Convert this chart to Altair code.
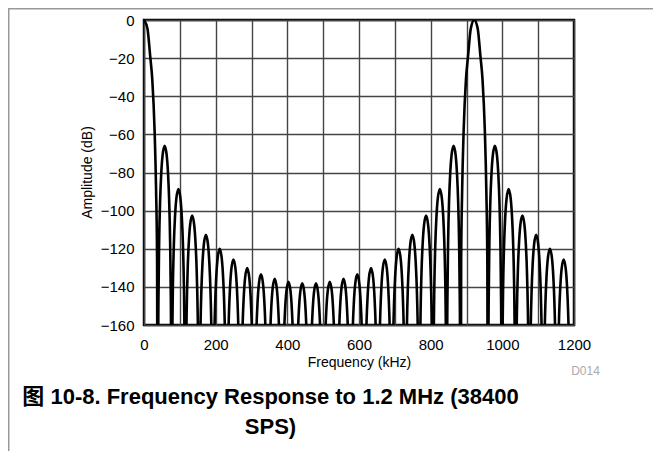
import altair as alt
import pandas as pd

# ---- values ----
# main lobes (kHz), half width to first notch (kHz)
main_lobe_khz = [0.0, 921.6]
main_half_width_khz = 38.4
# side lobes: centre frequency (kHz) and peak level (dB)
side_lobe_khz = [57.6, 96.0, 134.4, 172.8, 211.2, 249.6, 288.0, 326.4, 364.8, 403.2,
                 441.6, 480.0, 518.4, 556.8, 595.2, 633.6, 672.0, 710.4, 748.8, 787.2,
                 825.6, 864.0, 979.2, 1017.6, 1056.0, 1094.4, 1132.8, 1171.2]
side_lobe_db = [-66.0, -88.7, -102.6, -112.7, -120.0, -125.6, -130.1, -133.4, -135.8, -137.4,
                -138.1, -138.1, -137.4, -135.8, -133.4, -130.1, -125.6, -120.0, -112.7, -102.6,
                -88.7, -66.0, -66.0, -88.7, -102.6, -112.7, -120.0, -125.6]
side_half_width_khz = 19.2
# notch frequencies (kHz)
notch_khz = [38.4, 76.8, 115.2, 153.6, 192.0, 230.4, 268.8, 307.2, 345.6, 384.0,
             422.4, 460.8, 499.2, 537.6, 576.0, 614.4, 652.8, 691.2, 729.6, 768.0,
             806.4, 844.8, 883.2, 960.0, 998.4, 1036.8, 1075.2, 1113.6, 1152.0, 1190.4]
notch_db = -300.0  # far below the -160 dB floor (clipped)
# lobe outline: fraction of half width vs. drop from lobe peak (dB)
main_profile_frac = [0.0, 0.25, 0.45, 0.6, 0.77, 0.88, 0.95]
main_profile_drop = [0.0, 4.5, 19.0, 31.0, 58.0, 90.0, 126.0]
side_profile_frac = [0.0, 0.3, 0.5, 0.65, 0.8, 0.9, 0.95]
side_profile_drop = [0.0, 5.0, 15.0, 28.0, 51.0, 81.0, 110.0]

x_ticks = list(range(0, 1201, 100))
y_ticks = list(range(-160, 1, 20))
caption = "图 10-8. Frequency Response to 1.2 MHz (38400\nSPS)"
fig_id = "D014"

# ---- build the table ----
rows = []
for c in main_lobe_khz:
    for f, d in zip(main_profile_frac, main_profile_drop):
        for s in ([1] if f == 0 else [-1, 1]):
            x = c + s * f * main_half_width_khz
            if x >= 0:
                rows.append({"f": x, "a": 0.0 - d})
for c, p in zip(side_lobe_khz, side_lobe_db):
    for f, d in zip(side_profile_frac, side_profile_drop):
        for s in ([1] if f == 0 else [-1, 1]):
            rows.append({"f": c + s * f * side_half_width_khz, "a": p - d})
for n in notch_khz:
    rows.append({"f": n, "a": notch_db})
df = pd.DataFrame(rows).sort_values("f")

FONT = "Liberation Sans, Arial, Noto Sans CJK SC"

curve = alt.Chart(df).mark_line(
    interpolate="monotone", clip=True, color="black", strokeWidth=2.6
).encode(
    x=alt.X("f:Q", scale=alt.Scale(domain=[0, 1200], nice=False),
            axis=alt.Axis(values=x_ticks, title="Frequency (kHz)", format="d",
                          labelExpr="datum.value % 200 == 0 ? datum.label : ''",
                          labelPadding=12, titleX=215, titleY=37, titleBaseline="middle")),
    y=alt.Y("a:Q", scale=alt.Scale(domain=[-160, 0], nice=False),
            axis=alt.Axis(values=y_ticks, title="Amplitude (dB)", labelPadding=10,
                          titleX=-57, titleY=152, titleBaseline="middle", titleAngle=-90)),
)

frame_top = alt.Chart(pd.DataFrame({"k": [0]})).mark_rule(color="#999", strokeWidth=1.5).encode(
    x=alt.value(-136), x2=alt.value(509), y=alt.value(-11.25))
frame_left = alt.Chart(pd.DataFrame({"k": [0]})).mark_rule(color="#999", strokeWidth=1.5).encode(
    x=alt.value(-135.25), y=alt.value(-12), y2=alt.value(431))

cap = alt.Chart(pd.DataFrame({"t": [caption]})).mark_text(
    font=FONT, fontSize=22, fontWeight="bold", align="center", baseline="alphabetic",
    lineBreak="\n", lineHeight=30, color="black"
).encode(text="t:N", x=alt.value(126.5), y=alt.value(384))

fid = alt.Chart(pd.DataFrame({"t": [fig_id]})).mark_text(
    font=FONT, fontSize=12, align="center", baseline="middle", color="#aaa"
).encode(text="t:N", x=alt.value(441.5), y=alt.value(351))

chart = alt.layer(curve, frame_top, frame_left, cap, fid).properties(
    width=430, height=305, autosize="none",
    padding={"left": 136, "top": 12, "right": 79, "bottom": 126},
).configure_view(stroke="black", strokeWidth=2.5).configure_axis(
    grid=True, gridColor="#444", gridWidth=1.4, ticks=False, tickSize=0, domain=False,
    labelFont=FONT, labelFontSize=15, labelColor="black", labelFlush=False, labelOverlap=False,
    titleFont=FONT, titleFontSize=14, titleFontWeight="normal", titleColor="black",
)

chart.save("out.html", embed_options={"renderer": "svg", "actions": False})
